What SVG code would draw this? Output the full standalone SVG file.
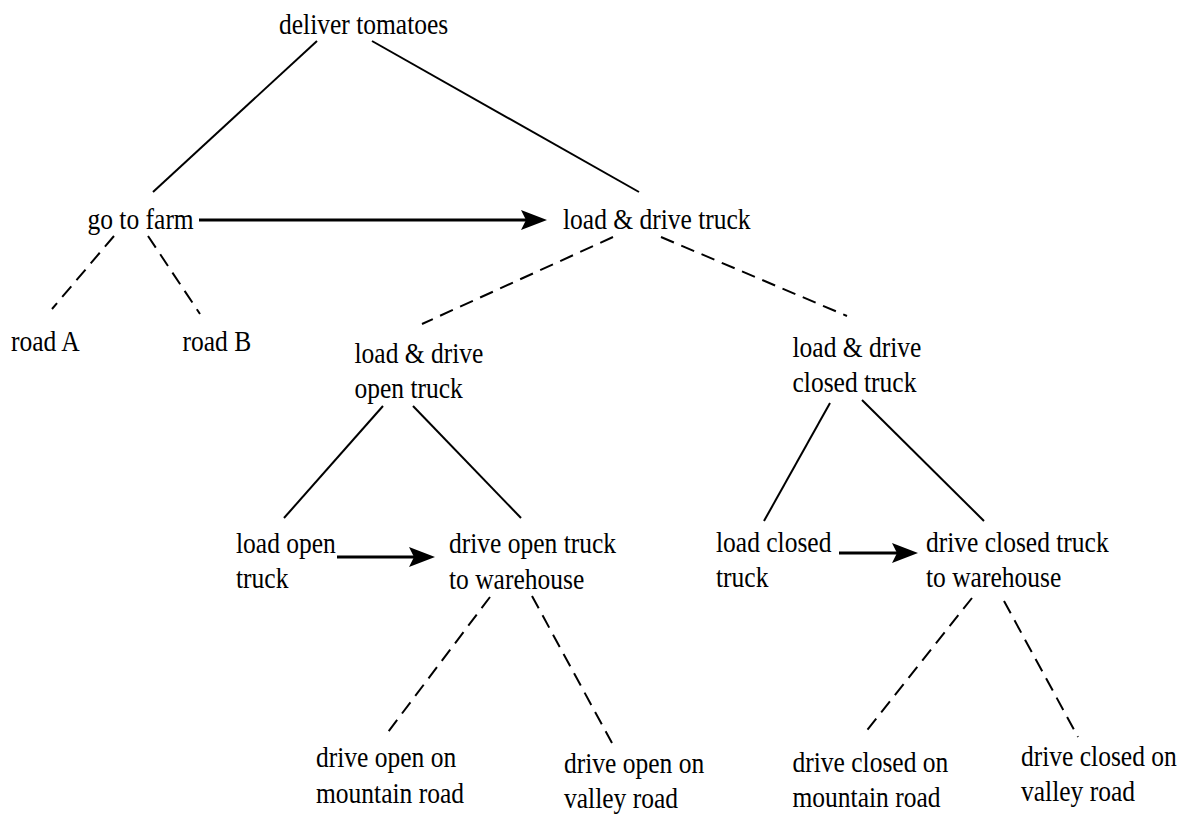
<svg xmlns="http://www.w3.org/2000/svg" width="1187" height="818" viewBox="0 0 1187 818">
<style>
text{font-family:'Liberation Serif','Times New Roman',serif;font-size:28.5px;fill:#000}
.s{stroke:#000;stroke-width:2;fill:none}
.d{stroke:#000;stroke-width:2;fill:none;stroke-dasharray:14 8}
.a{stroke:#000;stroke-width:3;fill:none;marker-end:url(#ah)}
</style>
<defs>
<marker id="ah" markerUnits="userSpaceOnUse" markerWidth="27" markerHeight="21" refX="5" refY="10" orient="auto">
<path d="M0,0 L26,10 L0,20 L5,10 z" fill="#000"/>
</marker>
</defs>
<rect width="1187" height="818" fill="#fff"/>
<g id="connectors">
<line class="s" x1="317" y1="41" x2="153" y2="192"/>
<line class="s" x1="372" y1="41" x2="639" y2="192"/>
<line class="s" x1="383" y1="406" x2="284" y2="518"/>
<line class="s" x1="413" y1="406" x2="521" y2="518"/>
<line class="s" x1="830" y1="403" x2="764" y2="521"/>
<line class="s" x1="862" y1="400" x2="984" y2="521"/>
<line class="d" x1="114" y1="236" x2="52" y2="309"/>
<line class="d" x1="148" y1="236" x2="200" y2="314"/>
<line class="d" x1="613" y1="237" x2="422" y2="324"/>
<line class="d" x1="661" y1="237" x2="847" y2="316"/>
<line class="d" x1="490" y1="597" x2="388" y2="732"/>
<line class="d" x1="532" y1="596" x2="612" y2="743"/>
<line class="d" x1="972" y1="598" x2="864" y2="734"/>
<line class="d" x1="1004" y1="601" x2="1078" y2="737"/>
<line class="a" x1="199" y1="220" x2="526" y2="220"/>
<line class="a" x1="337" y1="557" x2="414" y2="557"/>
<line class="a" x1="839" y1="553" x2="897" y2="553"/>
</g>
<g id="n-deliver" transform="translate(279,34) scale(0.895 1)"><text x="0" y="0">deliver tomatoes</text></g>
<g id="n-farm" transform="translate(87.5,229) scale(0.895 1)"><text x="0" y="0">go to farm</text></g>
<g id="n-ldtruck" transform="translate(563,229) scale(0.895 1)"><text x="0" y="0">load &amp; drive truck</text></g>
<g id="n-roadA" transform="translate(11,351) scale(0.895 1)"><text x="0" y="0">road A</text></g>
<g id="n-roadB" transform="translate(182.5,351) scale(0.895 1)"><text x="0" y="0">road B</text></g>
<g id="n-open" transform="translate(354.5,363) scale(0.895 1)"><text x="0" y="0">load &amp; drive<tspan x="0" y="35.5">open truck</tspan></text></g>
<g id="n-closed" transform="translate(792.5,357) scale(0.895 1)"><text x="0" y="0">load &amp; drive<tspan x="0" y="35.5">closed truck</tspan></text></g>
<g id="n-loadopen" transform="translate(236,553) scale(0.895 1)"><text x="0" y="0">load open<tspan x="0" y="35.5">truck</tspan></text></g>
<g id="n-driveopen" transform="translate(449,553) scale(0.895 1)"><text x="0" y="0">drive open truck<tspan x="0" y="36">to warehouse</tspan></text></g>
<g id="n-loadclosed" transform="translate(716,552) scale(0.895 1)"><text x="0" y="0">load closed<tspan x="0" y="35.5">truck</tspan></text></g>
<g id="n-driveclosed" transform="translate(926,552) scale(0.895 1)"><text x="0" y="0">drive closed truck<tspan x="0" y="35.5">to warehouse</tspan></text></g>
<g id="n-openmountain" transform="translate(316,767) scale(0.895 1)"><text x="0" y="0">drive open on<tspan x="0" y="36">mountain road</tspan></text></g>
<g id="n-openvalley" transform="translate(564,773) scale(0.895 1)"><text x="0" y="0">drive open on<tspan x="0" y="35.5">valley road</tspan></text></g>
<g id="n-closedmountain" transform="translate(792.5,772) scale(0.895 1)"><text x="0" y="0">drive closed on<tspan x="0" y="35">mountain road</tspan></text></g>
<g id="n-closedvalley" transform="translate(1021,765.5) scale(0.895 1)"><text x="0" y="0">drive closed on<tspan x="0" y="36">valley road</tspan></text></g>
</svg>
